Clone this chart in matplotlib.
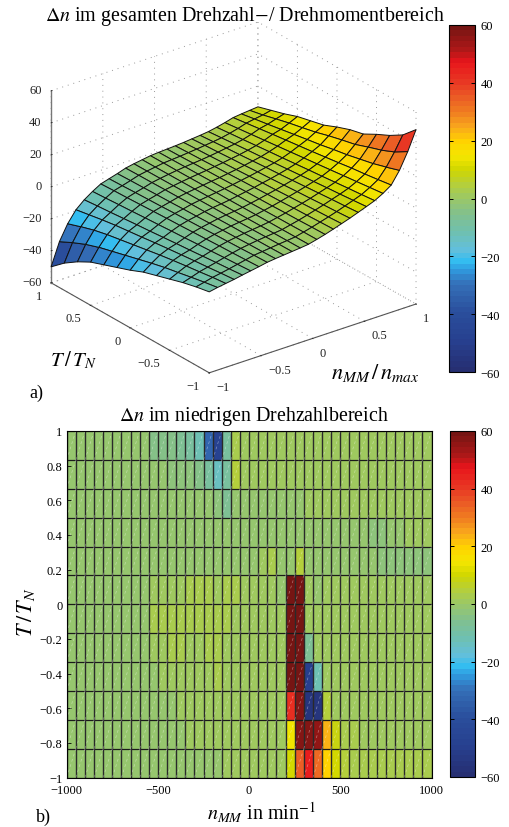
import numpy as np
import matplotlib
matplotlib.use('Agg')
import matplotlib.pyplot as plt
from matplotlib.colors import LinearSegmentedColormap
from matplotlib.cm import ScalarMappable
from matplotlib.collections import LineCollection
from matplotlib.transforms import ScaledTranslation

plt.rcParams['font.family'] = ['Liberation Serif', 'DejaVu Serif']
plt.rcParams['mathtext.fontset'] = 'stix'
plt.rcParams['font.size'] = 9

# colour scale
cbar_levels = [-60, -50, -40, -30, -25, -22, -18, -12, -6, 0, 5, 10, 15, 20, 25, 30, 35, 40, 48, 52, 60]
cbar_colors = ['#262f72', '#27408f', '#2a4e9c', '#3570b8', '#2f9be0', '#33bdf0', '#62bfdc', '#6fc0b0',
               '#80c090', '#9ac768', '#b5cf3a', '#cfd600', '#f5e600', '#ffd200', '#f9a81c', '#f07f20',
               '#eb5f25', '#e83c24', '#e8151b', '#b01818', '#761513']
cbar_ticks = [-60, -40, -20, 0, 20, 40, 60]

# surface a): one row per n value, columns go T = 1 ... -1
surf_n = [-1, -.92, -.84, -.76, -.68, -.6, -.52, -.44, -.36, -.28, -.2, -.12, -.04,
          .04, .12, .2, .28, .36, .44, .52, .6, .68, .76, .84, .92, 1]
surf_T = [1, .8333, .6667, .5, .3333, .1667, 0, -.1667, -.3333, -.5, -.6667, -.8333, -1]
surf_dn = [
    [-50, -43, -37.5, -33, -30, -27, -24, -20.5, -18, -15.5, -13, -11, -9.4],
    [-36, -31.9, -28.3, -25.5, -23.3, -21.1, -18.9, -16.7, -14.7, -13.1, -11.4, -9.8, -8.4],
    [-26.5, -23.7, -21.2, -19.3, -17.8, -16.3, -14.8, -13.3, -12, -10.8, -9.7, -8.5, -7.6],
    [-19.5, -18, -16.5, -15.2, -14.2, -13.2, -12.1, -11.1, -10.2, -9.3, -8.5, -7.6, -6.8],
    [-15, -14.2, -13.5, -12.7, -11.9, -11.2, -10.4, -9.6, -8.9, -8.1, -7.3, -6.6, -5.8],
    [-11.5, -11, -10.4, -9.9, -9.3, -8.8, -8.2, -7.7, -7.1, -6.6, -6, -5.5, -4.9],
    [-8.5, -8.1, -7.8, -7.4, -7, -6.6, -6.3, -5.9, -5.5, -5.1, -4.8, -4.4, -4],
    [-7, -6.7, -6.3, -6, -5.7, -5.3, -5, -4.7, -4.3, -4, -3.7, -3.3, -3],
    [-5.5, -5.2, -5, -4.7, -4.5, -4.2, -4, -3.7, -3.4, -3.2, -2.9, -2.7, -2.4],
    [-3.8, -3.6, -3.5, -3.3, -3.2, -3, -2.9, -2.7, -2.5, -2.4, -2.2, -2.1, -1.9],
    [-2.8, -2.7, -2.6, -2.5, -2.3, -2.2, -2.1, -2, -1.9, -1.8, -1.6, -1.5, -1.4],
    [-2, -1.9, -1.8, -1.7, -1.6, -1.5, -1.5, -1.4, -1.3, -1.2, -1.1, -1, -.9],
    [-1.2, -1.1, -1.1, -1, -.9, -.8, -.8, -.7, -.6, -.5, -.5, -.4, -.3],
    [-.8, -.7, -.5, -.4, -.2, -.1, .1, .2, .4, .6, .7, .9, 1],
    [-.5, -.3, 0, .2, .4, .7, 1, 1.2, 1.4, 1.7, 1.9, 2.2, 2.4],
    [-.2, .2, .5, .9, 1.2, 1.6, 1.9, 2.3, 2.6, 3, 3.3, 3.7, 4],
    [.2, .7, 1.1, 1.6, 2, 2.5, 3, 3.4, 3.9, 4.3, 4.8, 5.2, 5.7],
    [.7, 1.3, 1.8, 2.4, 2.9, 3.5, 4, 4.6, 5.2, 5.7, 6.3, 6.8, 7.4],
    [1.2, 1.9, 2.6, 3.2, 3.9, 4.6, 5.2, 5.9, 6.6, 7.3, 8, 8.6, 9.3],
    [1.8, 2.6, 3.4, 4.2, 4.9, 5.7, 6.5, 7.3, 8.1, 8.9, 9.6, 10.4, 11.2],
    [2.8, 3.7, 4.5, 5.4, 6.3, 7.1, 8, 8.9, 9.7, 10.6, 11.5, 12.3, 13.2],
    [4, 5, 6, 7, 8, 9, 10, 11, 12, 13, 14, 15, 16],
    [5.4, 6.6, 7.8, 9, 10.1, 11.2, 12.3, 13.5, 14.7, 16, 17, 18.2, 19.5],
    [6, 7.5, 8.9, 10.4, 11.9, 13.4, 14.8, 16.5, 18, 19.9, 21.8, 24.3, 27],
    [6.5, 8.3, 10.5, 12.6, 14.4, 16.3, 18.7, 20.8, 22.7, 25.7, 28.5, 32.1, 37],
    [7, 9.5, 12, 15, 17, 19, 22.5, 25.5, 27.5, 32, 36, 41, 49],
]

# map b): cell edges and one row of cells per torque band, top to bottom
map_n = list(range(-1000, 1001, 50))
map_T = [1, .8333, .6667, .5, .3333, .1667, 0, -.1667, -.3333, -.5, -.6667, -.8333, -1]
map_dn = [
    [-1, -1, -1, -1, -1, -1, -1, -1, -1, -4, -4, -4, -7, -9, -13, -33, -48, -8, 3, 0,
     0, 0, 0, 0, 0, 0, 0, 0, 0, 0, 0, 0, 0, 0, 0, 1, 1, 1, 1, 1],
    [-1, -1, -1, -1, -1, -1, -1, -1, -1, -1, -1, -2, -2, -3, -4, -9, -15, -9, 4, 0,
     0, 0, 0, 0, 0, 0, 0, 0, 0, 0, 0, 0, 0, 0, 0, 1, 1, 1, 1, 1],
    [-1, -1, -1, -1, -1, -1, -1, -1, -1, -1, -1, -1, -1, -1, -1, -1, -3, -7, -1, -1,
     -1, -1, -1, -1, -1, -1, 1, 1, 1, 1, 1, 1, 1, 1, 1, 1, 1, 1, 1, 1],
    [-1, -1, -1, -1, -1, -1, -1, -1, -1, -1, -1, -1, -1, -1, -1, -1, -1, -1, -1, -1,
     -1, -1, -1, -1, -1, -1, -1, -1, -1, -1, -1, -1, -1, -2, -2, -1, -1, 0, 0, 0],
    [-1, -1, -1, -1, -1, -1, -1, -1, -1, -1, -1, -1, -1, -1, -1, -1, -1, -1, -1, -1,
     -1, 1, 2, -1, -1, 5, -1, -1, -1, -1, -1, -1, -1, -1, -2, -2, -2, -2, -2, -2],
    [-1, -1, -1, -1, -1, -1, -1, -1, -1, 0, 0, 0, 0, 2, 2, 2, 0, 2, 3, 1,
     1, 1, 0, -1, 60, 60, 0, -1, 0, 0, 0, 0, 0, 0, 0, 0, 0, 0, 0, 0],
    [-1, -1, -1, -1, -1, -1, -1, -1, -1, 3, 2, 2, 2, 2, 2, 2, 2, 2, 1, 1,
     1, 1, 0, 0, 60, 60, 1, 0, 0, 0, 0, 0, 0, 0, 0, 0, 0, 0, 0, 0],
    [-1, -1, -1, -1, -1, -1, -1, -1, -1, 0, 1, 2, 2, 1, 1, 2, 2, 1, 1, 1,
     1, 1, 0, 0, 60, 60, -7, 0, 0, 0, 0, 0, 0, 0, 0, 0, 0, 0, 0, 0],
    [-1, -1, -1, -1, -1, -1, -1, -1, -1, -1, 0, 0, 0, 1, 1, 1, 2, 1, 1, 1,
     1, 1, 0, 0, 60, 60, -50, -12, 1, 1, 0, 0, 0, 0, 0, 0, 0, 0, 0, 0],
    [-1, -1, -1, -1, -1, -1, -1, -1, -1, -1, -1, -1, 0, 0, 0, 1, 1, 1, 1, 1,
     1, 1, 0, 0, 43, 58, -55, -55, 5, 1, 1, 0, 0, 0, 0, 0, 0, 0, 0, 0],
    [-1, -1, -1, -1, -1, -1, -1, -1, -1, -1, -1, -1, -1, 0, 0, 0, 0, 0, 1, 1,
     0, 0, 0, 0, 14, 58, 57, 56, 23, 8, 3, 2, 1, 1, 1, 1, 1, 1, 1, 1],
    [-1, -1, -1, -1, -1, -1, -1, -1, -1, -1, -1, -1, -1, -1, -1, -1, -1, 1, 1, 0,
     0, 0, 0, 0, 10, 35, 46, 33, 20, 10, 4, 3, 3, 3, 3, 3, 3, 3, 3, 3],
]
map_xticks = [-1000, -500, 0, 500, 1000]
map_yticks = [-1, -.8, -.6, -.4, -.2, 0, .2, .4, .6, .8, 1]
surf_ticks = [-1, -.5, 0, .5, 1]
surf_zticks = [-60, -40, -20, 0, 20, 40, 60]

stops = [(v + 60) / 120 for v in cbar_levels]
cmap = LinearSegmentedColormap.from_list('dn', list(zip(stops, cbar_colors)), N=64)
W, H = 510, 828


def px_axes(left, top, right, bottom, **kw):
    # axes from picture pixels
    return fig.add_axes([left / W, 1 - bottom / H, (right - left) / W, (bottom - top) / H], **kw)


def add_cbar(left, top, right, bottom):
    cax = px_axes(left, top, right, bottom)
    cb = fig.colorbar(ScalarMappable(plt.Normalize(-60, 60), cmap), cax=cax, ticks=cbar_ticks)
    cb.outline.set_linewidth(0.8)
    cax.tick_params(left=True, right=True, direction='in', length=3, width=0.7, labelsize=9, pad=4)
    return cb


def nudge(axis, dx, dy):
    # mplot3d resets the label transform in get_major_ticks, so shift it right after
    orig = axis.get_major_ticks
    offset = ScaledTranslation(dx / 100, dy / 100, fig.dpi_scale_trans)

    def get_major_ticks(numticks=None):
        ticks = orig(numticks)
        for t in ticks:
            t.label1.set_transform(axis.axes.transData + offset)
        return ticks
    axis.get_major_ticks = get_major_ticks


fig = plt.figure(figsize=(W / 100, H / 100), dpi=100)

# --- a) surface
ax = fig.add_axes([21.5 / W, 417.5 / H, 413 / W, 413 / H], projection='3d', proj_type='ortho')
ax.patch.set_visible(False)
ax.view_init(elev=25.8, azim=232.6)
ax.set_box_aspect((260, 260, 213))
N, T = np.meshgrid(surf_n, surf_T, indexing='ij')
ax.plot_surface(N, T, np.array(surf_dn), cmap=cmap, vmin=-60, vmax=60, rstride=1, cstride=1,
                edgecolor='#111111', linewidth=0.7, shade=False, antialiased=True)
ax.set_xlim(-1, 1, view_margin=0)
ax.set_ylim(-1, 1, view_margin=0)
ax.set_zlim(-60, 60, view_margin=0)
ax.set_xticks(surf_ticks)
ax.set_yticks(surf_ticks)
ax.set_zticks(surf_zticks)
ax.set_xticklabels(['\u22121', '\u22120.5', '0', '0.5', '1'], ha='left')
ax.set_yticklabels(['\u22121', '\u22120.5', '0', '0.5', '1'], ha='right')
ax.set_zticklabels(['\u221260', '\u221240', '\u221220', '0', '20', '40', '60'], ha='right', va='bottom')
for axis in (ax.xaxis, ax.yaxis, ax.zaxis):
    axis.pane.set_visible(False)
    axis.line.set_color('#555555')
    axis.line.set_linewidth(0.8)
    axis._axinfo['grid'].update(color='#999999', linewidth=0.7, linestyle=(0, (1, 5)))
    axis._axinfo['tick'].update(inward_factor=0.03, outward_factor=0.0)
    axis._axinfo['tick']['linewidth'] = {True: 0.6, False: 0.6}
ax.zaxis._axinfo['tick'].update(inward_factor=0.0, outward_factor=0.06)
ax.zaxis.line.set_color('#777777')
ax.zaxis.line.set_linewidth(1.0)
ax.tick_params(axis='both', labelsize=9, pad=-4, colors='#222222')
ax.zaxis.set_ticks_position('upper')
nudge(ax.xaxis, 3, -1)
nudge(ax.yaxis, -4, 0)
nudge(ax.zaxis, 0, -6)

add_cbar(449.5, 26, 475, 373)

# --- b) low speed map
ax2 = px_axes(66.7, 432, 431.5, 778.5)
ax2.pcolormesh(map_n, map_T, np.array(map_dn), cmap=cmap, vmin=-60, vmax=60)
ax2.hlines(map_T, map_n[0], map_n[-1], colors='#1a1a1a', linewidth=0.9)
ax2.vlines(map_n, map_T[-1], map_T[0], colors='#2a2a2a', linewidth=1.0)
segs = []
for i in range(len(map_n) - 1):
    for j in range(len(map_T) - 1):
        segs.append([(map_n[i], map_T[j + 1]), (map_n[i + 1], map_T[j])])
ax2.add_collection(LineCollection(segs, colors='white', alpha=0.4, linewidths=0.5, linestyles=(0, (4, 4))))
ax2.set_xlim(-1000, 1000)
ax2.set_ylim(-1, 1)
ax2.set_xticks(map_xticks)
ax2.set_yticks(map_yticks)
ax2.set_yticklabels(['\u22121', '\u22120.8', '\u22120.6', '\u22120.4', '\u22120.2', '0', '0.2', '0.4', '0.6', '0.8', '1'])
ax2.tick_params(direction='in', length=3, width=0.6, labelsize=9, pad=3)
ax2.tick_params(axis='x', pad=5)
ax2.set_title(r'$\Delta n$ im niedrigen Drehzahlbereich', fontsize=14.4, x=0.513, pad=8)
ax2.set_xlabel(r'$n_{MM}$ in min$^{-1}$', fontsize=14.5, labelpad=2, x=0.535)
ax2.set_ylabel(r'$T\,/\,T_N$', fontsize=16, labelpad=2, y=0.48)

add_cbar(450, 432, 475, 778)

fig.text(245 / W, 1 - 17 / H, r'$\Delta n$ im gesamten Drehzahl$-$/ Drehmomentbereich', fontsize=14.4,
         ha='center', va='center')
fig.text(73 / W, 1 - 360 / H, r'$T\,/\,T_N$', fontsize=15, ha='center', va='center')
fig.text(375 / W, 1 - 373 / H, r'$n_{MM}\,/\,n_{max}$', fontsize=16, ha='center', va='center')
fig.text(29 / W, 1 - 393 / H, 'a)', fontsize=13, ha='left', va='center')
fig.text(36 / W, 1 - 817 / H, 'b)', fontsize=13, ha='left', va='center')

fig.savefig('out.png', dpi=100)
